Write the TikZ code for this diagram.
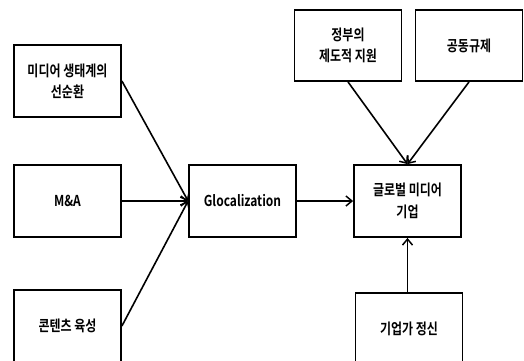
\documentclass[tikz,border=0pt]{standalone}
\usepackage{fontspec}
\setmainfont{Noto Sans CJK KR}[FakeStretch=0.8,BoldFont={Noto Sans CJK KR Bold}]
\usetikzlibrary{arrows.meta}
\begin{document}
\begin{tikzpicture}[x=1pt,y=1pt,
  box/.style={draw,line width=1.8pt,minimum width=107pt,minimum height=72pt,align=center,inner sep=2pt,font=\fontsize{15}{21.5}\selectfont\bfseries},
  conn/.style={line width=1.6pt,-{Straight Barb[length=6pt,width=10pt,line width=1.5pt]}}]
\useasboundingbox (0,0) rectangle (524,-360);
\node[box] (eco) at (67.5,-81) {미디어 생태계의\\선순환};
\node[box] (ma) at (67.5,-201) {M\&A};
\node[box] (con) at (67.5,-326) {콘텐츠 육성};
\node[box] (glo) at (242.5,-201) {Glocalization};
\node[box,minimum height=71pt] (gov) at (348,-45.5) {정부의\\제도적 지원};
\node[box,minimum height=71pt] (co) at (469,-45.5) {공동규제};
\node[box] (gm) at (407.5,-201) {글로벌 미디어\\기업};
\node[box] (ent) at (409,-329) {기업가 정신};
\draw[conn] (eco.east) -- (glo.west);
\draw[conn] (ma.east) -- (glo.west);
\draw[conn] (con.east) -- (glo.west);
\draw[conn] (glo.east) -- (gm.west);
\draw[conn] (gov.south) -- (gm.north);
\draw[conn] (co.south) -- (gm.north);
\draw[conn] (ent.north -| gm.south) -- (gm.south);
\end{tikzpicture}
\end{document}
